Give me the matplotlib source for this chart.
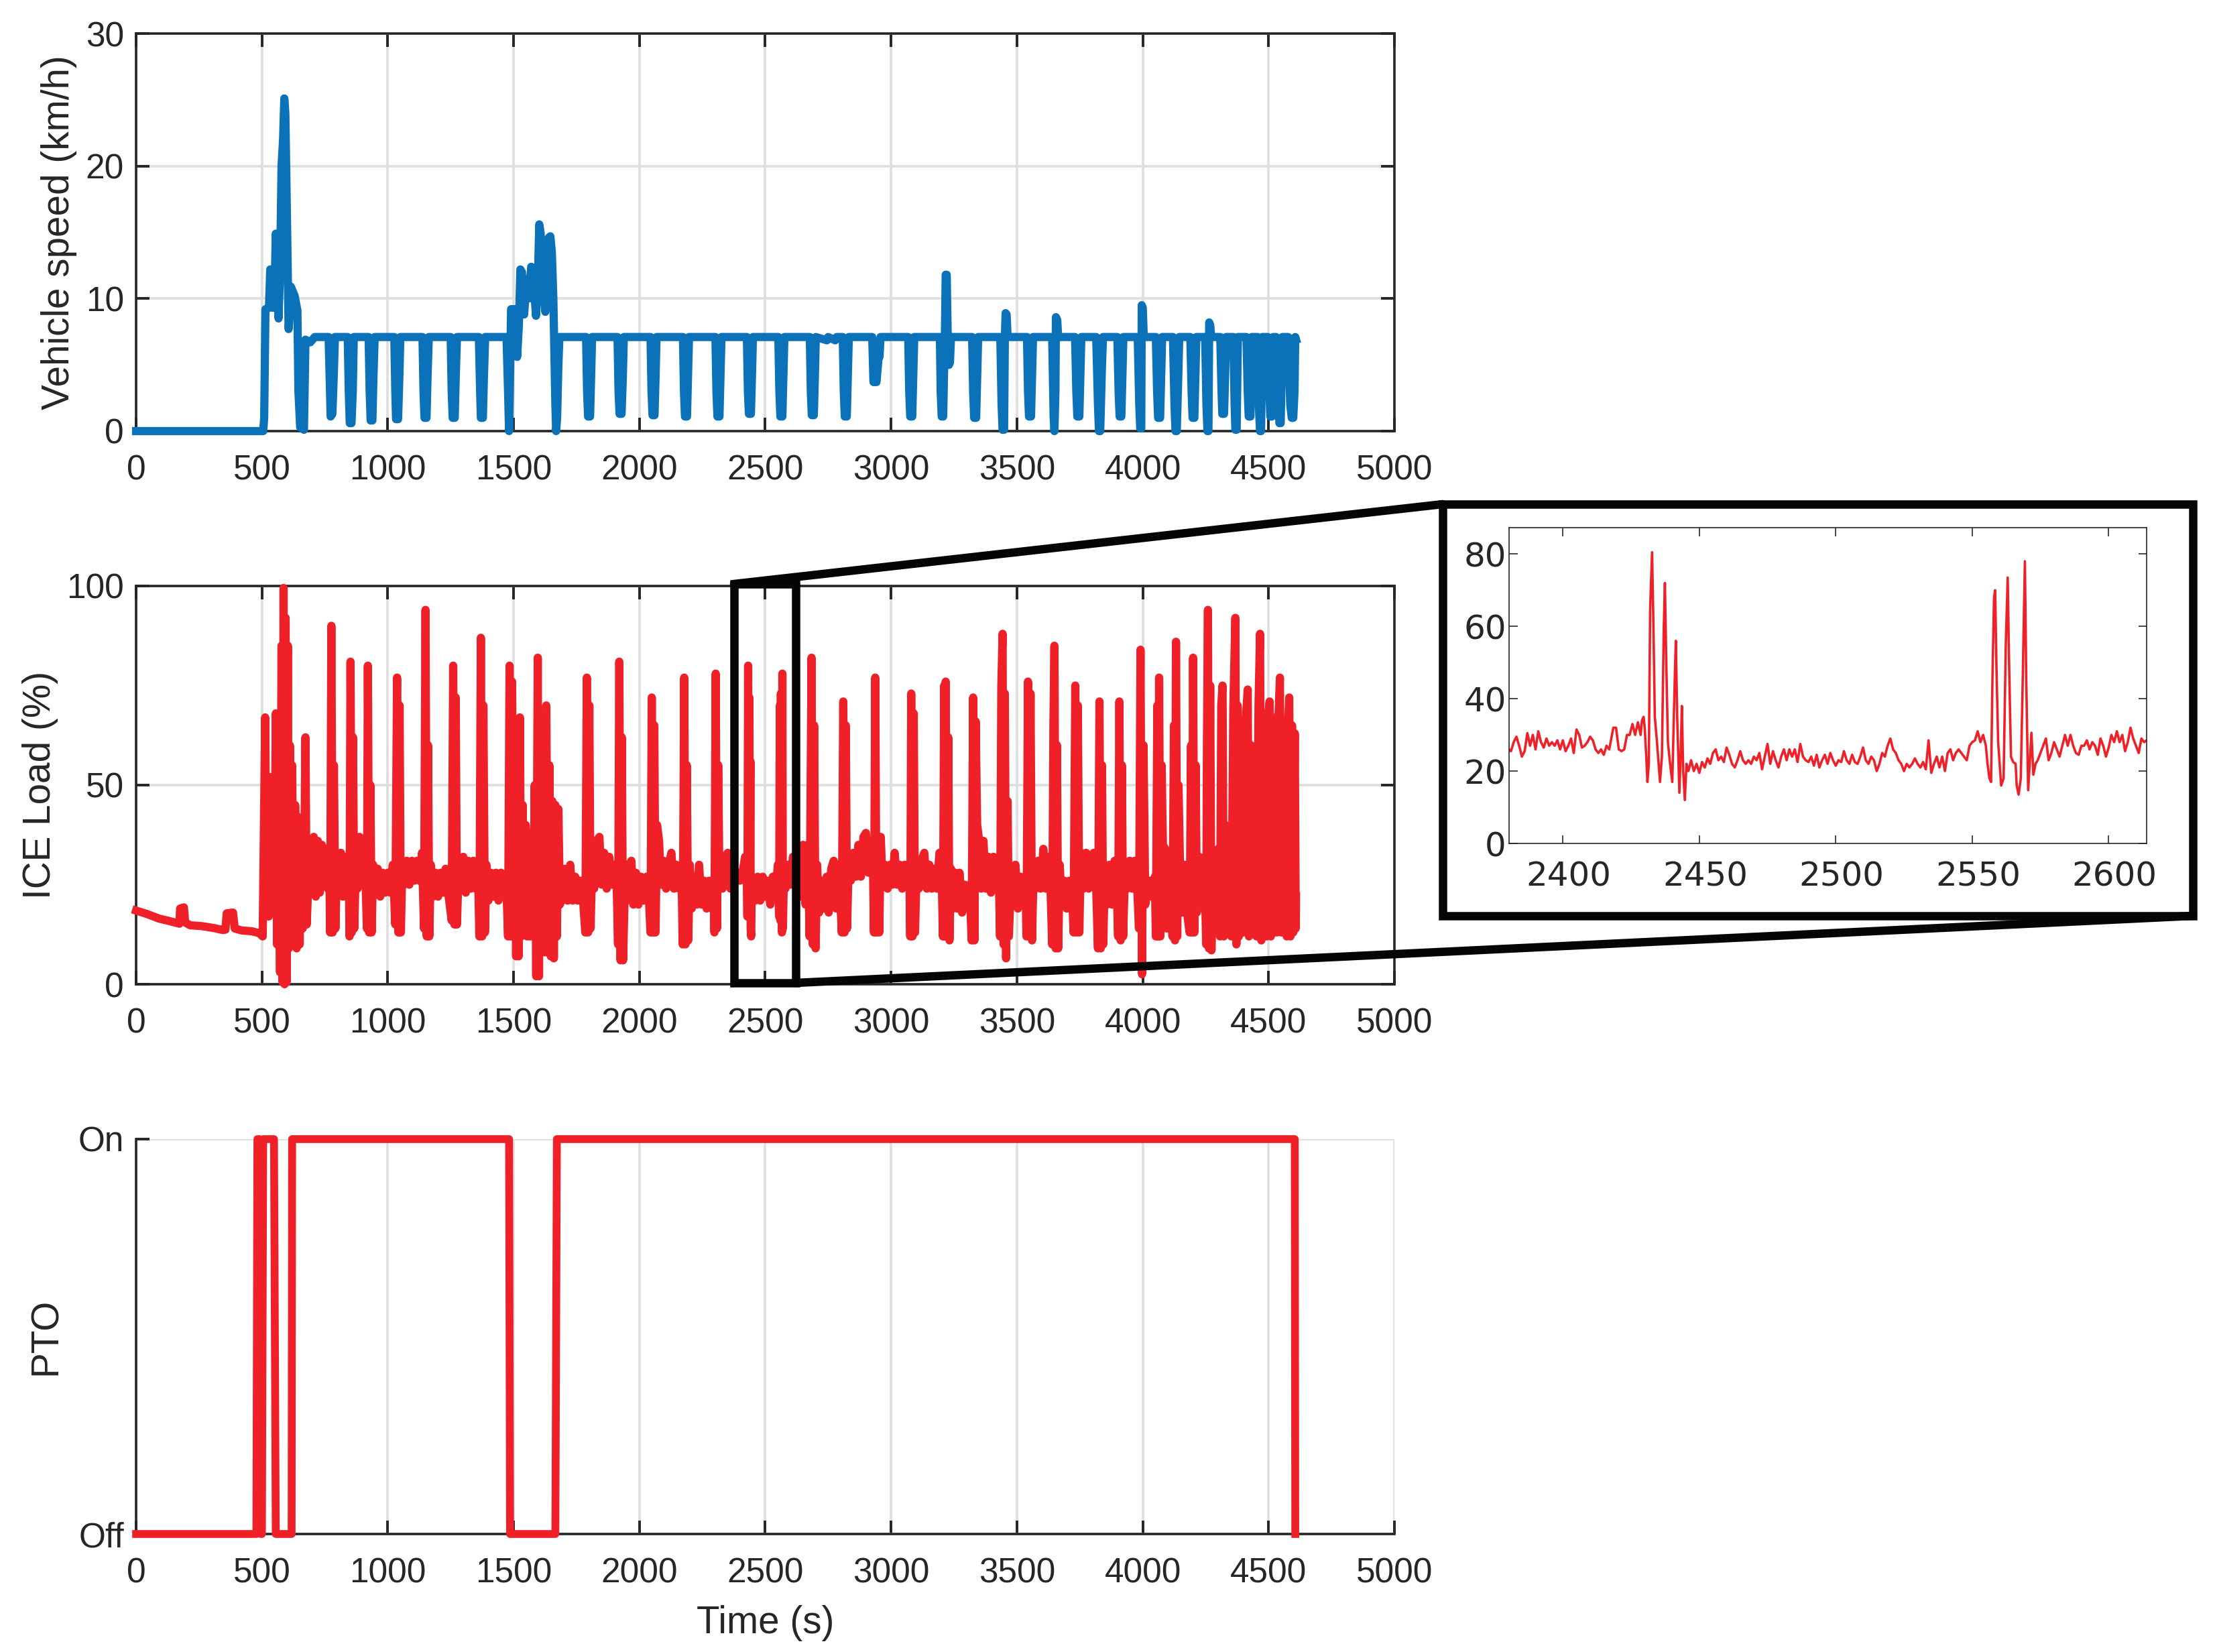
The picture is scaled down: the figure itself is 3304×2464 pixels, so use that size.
import numpy as np
import matplotlib
matplotlib.use('Agg')
import matplotlib.pyplot as plt
from matplotlib.lines import Line2D
from matplotlib.patches import Rectangle
from matplotlib.transforms import ScaledTranslation

plt.rcParams['font.family'] = ['Liberation Sans', 'DejaVu Sans']

W, H = 3304, 2464
BLUE = '#0b72ba'
RED = '#ef2028'
DARK = '#262626'
GRID = '#dedede'

x_ticks = [0, 500, 1000, 1500, 2000, 2500, 3000, 3500, 4000, 4500, 5000]

# vehicle speed (t, km/h)
speed_trace = [
    (0, 0), (505, 0), (509, 1), (512, 6), (514, 9.2), (528, 9.3), (533, 12.2), (538, 12), (544, 9.3),
    (550, 10), (555, 14.9), (560, 14), (566, 8.5), (572, 12), (578, 20), (584, 22), (589, 25.1), (593, 24),
    (598, 18), (606, 7.7), (611, 9), (615, 10.9), (630, 10.2), (641, 9.1), (645, 3), (652, 0.3), (667, 0.1),
    (673, 6.9), (692, 6.7), (710, 7.1), (765, 7.1),
    (769, 4), (773, 1.1), (780, 1.3), (786, 4.5), (790, 7.1), (841, 7.1),
    (845, 3), (849, 0.6), (856, 0.6), (861, 3), (865, 7.1), (924, 7.1),
    (928, 3), (932, 0.8), (939, 0.8), (943, 4), (948, 7.1), (1026, 7.1),
    (1030, 3), (1033, 0.9), (1041, 0.9), (1046, 4), (1050, 7.1), (1138, 7.1),
    (1142, 3), (1146, 1), (1154, 1), (1158, 4), (1163, 7.1), (1250, 7.1),
    (1254, 3), (1258, 1), (1266, 1), (1270, 4), (1275, 7.1), (1362, 7.1),
    (1367, 3), (1370, 1), (1378, 1), (1382, 4), (1387, 7.1), (1472, 7.1), (1478, 3), (1482, 0), (1485, 3),
    (1490, 9.2), (1504, 9.2), (1514, 5.6), (1521, 8), (1527, 12.2), (1533, 12), (1542, 8.8), (1551, 11.4),
    (1560, 10), (1570, 12.4), (1576, 12.3), (1589, 8.7), (1596, 11), (1602, 15.6), (1607, 15), (1618, 11),
    (1626, 9), (1634, 12), (1640, 14.6), (1646, 14.7), (1652, 13.5), (1658, 10), (1662, 6), (1666, 2),
    (1669, 0), (1673, 1), (1678, 5), (1682, 7.1), (1788, 7.1),
    (1792, 3), (1796, 1.1), (1804, 1.1), (1808, 4), (1812, 7.1), (1913, 7.1),
    (1917, 3), (1921, 1.3), (1929, 1.3), (1934, 4), (1938, 7.1), (2044, 7.1),
    (2048, 3), (2052, 1.2), (2060, 1.2), (2064, 4), (2068, 7.1), (2173, 7.1),
    (2177, 3), (2181, 1.1), (2189, 1.1), (2193, 4), (2197, 7.1), (2302, 7.1),
    (2306, 3), (2310, 1.1), (2318, 1.1), (2322, 4), (2326, 7.1), (2427, 7.1),
    (2431, 3), (2435, 1.3), (2443, 1.3), (2447, 4), (2451, 7.1), (2552, 7.1),
    (2556, 3), (2560, 1.1), (2568, 1.1), (2572, 4), (2576, 7.1), (2677, 7.1),
    (2681, 3), (2685, 1.2), (2693, 1.2), (2697, 4), (2701, 7.1), (2745, 6.85), (2750, 7.1), (2778, 6.85),
    (2784, 7.1), (2808, 7.1), (2812, 3), (2816, 1.1), (2824, 1.1), (2828, 4), (2832, 7.1), (2925, 7.1),
    (2930, 3.7), (2936, 3.7), (2942, 3.7), (2950, 5.5), (2954, 5.6), (2958, 7.1), (3068, 7.1),
    (3072, 3), (3076, 1.1), (3084, 1.1), (3088, 4), (3092, 7.1), (3194, 7.1),
    (3197, 3), (3201, 1.1), (3207, 1.1), (3211, 5), (3214, 7.5), (3217, 11.8), (3221, 11.8), (3225, 7.1),
    (3230, 5), (3234, 5.2), (3238, 7.1), (3322, 7.1), (3326, 3), (3330, 1), (3338, 1), (3342, 4), (3346, 7.1),
    (3434, 7.1), (3439, 2), (3443, 0.1), (3449, 0.1), (3452, 7), (3455, 8.9), (3459, 8.8), (3463, 7.1),
    (3540, 7.1), (3544, 3), (3548, 1.1), (3556, 1.1), (3560, 4), (3564, 7.1), (3640, 7.1), (3646, 1),
    (3649, 0), (3653, 3), (3655, 8.6), (3660, 8.4), (3664, 7.1), (3731, 7.1), (3736, 3), (3740, 1.1),
    (3748, 1.1), (3752, 4), (3756, 7.1), (3815, 7.1), (3822, 2), (3826, 0), (3831, 0), (3838, 5), (3842, 7.1),
    (3899, 7.1), (3904, 3), (3908, 1.1), (3915, 1.1), (3919, 4), (3923, 7.1), (3980, 7.1), (3986, 2),
    (3990, 0.2), (3994, 0.2), (3996, 9.5), (4000, 9.3), (4004, 7.1), (4052, 7.1), (4057, 3), (4061, 1),
    (4069, 1), (4073, 4), (4077, 7.1), (4120, 7.1), (4126, 2), (4130, 0), (4135, 0), (4141, 4), (4145, 7.1),
    (4189, 7.1), (4194, 3), (4198, 1), (4205, 1), (4209, 4), (4213, 7.1), (4248, 7.1), (4253, 2), (4257, 0),
    (4261, 0), (4264, 8.2), (4268, 8), (4272, 7.1), (4308, 7.1), (4313, 3), (4316, 1.3), (4323, 1.3),
    (4327, 4), (4331, 7.1), (4360, 7.1), (4365, 2), (4368, 0.1), (4373, 0.1), (4378, 7.1), (4412, 7.1),
    (4417, 3), (4421, 1.1), (4428, 1.1), (4433, 7.1), (4456, 7.1), (4461, 2), (4466, 0), (4470, 0),
    (4475, 7.1), (4497, 7.1), (4503, 3), (4507, 1.1), (4513, 1.1), (4518, 7.1), (4530, 7.1), (4538, 3),
    (4543, 0.6), (4548, 0.6), (4555, 7.1), (4578, 7.1), (4586, 2), (4592, 1), (4598, 1), (4603, 3),
    (4606, 7.1), (4609, 6.9),
]

# ICE load (t, %)
load_trace = [
    (0, 18.5), (40, 17.7), (70, 17), (90, 16.5), (130, 15.9), (160, 15.4), (172, 15.2), (175, 19), (190, 19.3),
    (195, 15.5), (215, 14.8), (260, 14.6), (310, 14.1), (345, 13.6), (355, 13.7), (360, 17.8), (385, 18),
    (392, 14), (420, 13.5), (460, 13.3), (490, 12.8), (503, 12),
    (508, 40), (513, 67), (518, 22), (522, 45), (527, 17), (533, 52), (538, 18), (545, 48), (550, 20), (555, 68),
    (560, 10), (566, 50), (572, 3), (578, 85), (582, 0.5), (586, 99.5), (590, 0), (594, 92), (598, 0.5), (603, 85),
    (607, 9), (611, 60), (616, 12), (620, 55), (626, 10), (632, 45), (638, 9), (644, 42), (650, 10), (656, 40),
    (662, 14), (668, 30), (673, 62), (678, 15), (684, 25),
    (690, 36), (698, 24), (706, 37), (714, 22), (722, 36), (730, 23), (738, 35), (746, 25), (754, 34), (762, 24),
    (768, 28), (771, 13), (776, 90), (781, 13), (786, 55), (792, 14), (798, 30),
    (806, 23), (814, 33), (822, 22), (830, 32), (838, 24), (845, 30),
    (848, 12), (852, 81), (857, 13), (862, 62), (867, 14), (873, 30),
    (880, 24), (888, 37), (896, 25), (904, 36), (912, 26),
    (917, 14), (921, 80), (926, 13), (931, 50), (936, 13), (942, 30),
    (950, 23), (960, 29), (970, 22), (980, 28), (990, 23), (1000, 28), (1010, 23), (1020, 30),
    (1030, 15), (1037, 77), (1042, 13), (1047, 70), (1052, 13), (1058, 30),
    (1066, 25), (1076, 31), (1086, 25), (1096, 31), (1106, 26), (1116, 31), (1126, 26), (1136, 33),
    (1144, 14), (1150, 94), (1155, 12), (1160, 60), (1165, 12), (1171, 30),
    (1180, 22), (1190, 28), (1200, 22), (1210, 28), (1220, 23), (1230, 29), (1240, 23),
    (1254, 16), (1260, 80), (1265, 15), (1270, 72), (1275, 15), (1282, 30),
    (1290, 24), (1300, 32), (1310, 23), (1320, 31), (1330, 24), (1340, 31), (1350, 24), (1358, 30),
    (1364, 12), (1370, 87), (1375, 12), (1380, 70), (1386, 13), (1392, 30),
    (1400, 21), (1410, 28), (1420, 22), (1430, 28), (1440, 21), (1450, 28), (1460, 22), (1470, 27),
    (1478, 12), (1484, 80), (1489, 12), (1494, 76), (1500, 13), (1506, 65), (1510, 7), (1515, 50), (1520, 7),
    (1525, 67), (1530, 12), (1536, 45), (1542, 13), (1548, 40), (1554, 12), (1560, 38), (1566, 12), (1572, 37),
    (1578, 14), (1584, 50), (1590, 2), (1596, 82), (1601, 2), (1606, 60), (1611, 8), (1618, 50), (1624, 8),
    (1630, 70), (1636, 8), (1642, 55), (1648, 7), (1654, 46), (1660, 6.5), (1666, 45), (1672, 12), (1678, 44),
    (1684, 20), (1690, 24),
    (1695, 21), (1705, 29), (1715, 21), (1725, 30), (1735, 21), (1745, 27), (1755, 21), (1765, 26), (1775, 22),
    (1785, 13), (1791, 77), (1796, 13), (1801, 70), (1806, 14), (1812, 30),
    (1820, 24), (1830, 36), (1841, 37), (1850, 25), (1860, 33), (1870, 24), (1880, 32), (1890, 25), (1900, 30),
    (1910, 24), (1915, 10), (1920, 81), (1925, 6), (1930, 62), (1935, 6), (1942, 24),
    (1950, 21), (1960, 30), (1968, 31), (1976, 20), (1986, 28), (1996, 20), (2006, 27), (2016, 21), (2028, 27),
    (2038, 21), (2044, 13), (2049, 72), (2054, 13), (2059, 65), (2064, 13), (2070, 40),
    (2078, 36), (2086, 25), (2096, 31), (2106, 24), (2116, 30), (2127, 33), (2137, 24), (2147, 30), (2157, 24),
    (2167, 29), (2172, 10), (2178, 77), (2183, 10), (2188, 55), (2194, 11), (2200, 30),
    (2208, 19), (2218, 27), (2228, 20), (2237, 30), (2247, 20), (2257, 26), (2267, 19), (2277, 26), (2287, 19),
    (2295, 26), (2298, 13), (2303, 78), (2308, 14), (2313, 55), (2318, 25), (2322, 32),
    (2330, 24), (2340, 32), (2351, 33), (2362, 24), (2372, 30), (2380, 27), (2390, 28), (2400, 26), (2412, 29),
    (2420, 32), (2426, 32), (2429, 17), (2432, 80), (2434, 18), (2437, 72), (2439, 17), (2441, 56), (2442, 14),
    (2444, 12), (2446, 22), (2455, 24), (2460, 21), (2470, 27), (2480, 21), (2490, 27), (2500, 22), (2510, 26),
    (2520, 20), (2530, 27), (2540, 22), (2550, 30), (2555, 17), (2558, 70), (2560, 16), (2562, 73), (2565, 22),
    (2566, 13), (2568, 78), (2570, 14), (2574, 27), (2580, 24), (2590, 30), (2600, 25), (2610, 32), (2620, 27),
    (2630, 33), (2640, 22), (2650, 35), (2660, 20), (2670, 35), (2676, 12), (2684, 82), (2689, 10), (2694, 65),
    (2700, 9), (2706, 30),
    (2714, 18), (2724, 26), (2734, 19), (2744, 27), (2752, 18), (2762, 29), (2772, 31), (2782, 19), (2792, 30),
    (2804, 13), (2810, 71), (2815, 13), (2820, 65), (2825, 14), (2832, 32),
    (2840, 26), (2850, 33), (2860, 27), (2870, 35), (2880, 27), (2890, 37), (2900, 38), (2910, 28), (2920, 36),
    (2928, 30), (2932, 13), (2937, 77), (2942, 13), (2948, 37), (2953, 13), (2959, 37),
    (2966, 25), (2976, 30), (2986, 24), (2996, 30), (3005, 25), (3014, 33), (3024, 25), (3034, 30), (3044, 24),
    (3054, 30), (3064, 26), (3072, 30), (3076, 12), (3080, 73), (3085, 12), (3090, 68), (3095, 13), (3102, 30),
    (3110, 24), (3120, 31), (3132, 33), (3142, 24), (3152, 30), (3162, 24), (3172, 29), (3182, 24), (3192, 33),
    (3200, 30), (3206, 12), (3211, 75), (3214, 12), (3217, 76), (3222, 12), (3227, 62), (3232, 11), (3238, 29),
    (3245, 19), (3255, 28), (3262, 19), (3272, 28), (3282, 18), (3292, 25), (3302, 19), (3312, 25),
    (3320, 11), (3326, 72), (3331, 11), (3336, 66), (3342, 40),
    (3350, 36), (3358, 24), (3367, 36), (3377, 24), (3387, 32), (3397, 23), (3407, 32), (3417, 24), (3427, 30),
    (3433, 12), (3438, 75), (3443, 88), (3447, 10), (3452, 73), (3457, 6.5), (3463, 46), (3468, 12), (3474, 22),
    (3482, 20), (3494, 30), (3504, 19), (3514, 27), (3524, 20), (3534, 26),
    (3538, 12), (3544, 76), (3549, 12), (3554, 73), (3560, 11), (3566, 28),
    (3574, 24), (3584, 31), (3594, 24), (3605, 34), (3615, 24), (3625, 32), (3633, 25),
    (3640, 10), (3645, 65), (3649, 85), (3654, 9), (3659, 60), (3664, 9), (3670, 30),
    (3678, 20), (3688, 26), (3698, 19), (3708, 26), (3718, 25),
    (3725, 13), (3732, 75), (3737, 13), (3742, 70), (3748, 13), (3754, 33),
    (3765, 24), (3775, 33), (3785, 24), (3795, 31), (3805, 33), (3815, 24),
    (3822, 9), (3828, 71), (3833, 9), (3838, 55), (3843, 10), (3850, 30),
    (3858, 20), (3868, 30), (3878, 20), (3888, 31), (3898, 21),
    (3902, 12), (3907, 71), (3912, 11), (3917, 55), (3922, 12), (3930, 30),
    (3938, 24), (3948, 31), (3958, 24), (3968, 31), (3978, 24),
    (3985, 14), (3991, 84), (3997, 2.5), (4003, 60), (4010, 20),
    (4018, 23), (4028, 26), (4038, 22), (4048, 27),
    (4052, 12), (4058, 70), (4061, 12), (4065, 77), (4070, 12), (4075, 55), (4080, 35), (4089, 34), (4095, 14),
    (4100, 30), (4110, 22), (4118, 12), (4124, 65), (4128, 11), (4132, 86), (4137, 12), (4142, 50), (4148, 30),
    (4156, 18), (4166, 30), (4176, 18), (4186, 13), (4192, 60), (4196, 13), (4200, 82), (4205, 13), (4210, 55),
    (4215, 18), (4225, 32), (4235, 20), (4245, 30), (4252, 10), (4255, 60), (4259, 94), (4263, 9), (4268, 75),
    (4273, 8.5), (4280, 30), (4290, 20), (4300, 34), (4307, 12), (4312, 70), (4317, 75), (4322, 12), (4328, 40),
    (4335, 18), (4345, 30), (4352, 12), (4360, 70), (4368, 92), (4372, 10), (4377, 70), (4382, 12), (4390, 30),
    (4398, 13), (4408, 65), (4417, 74), (4422, 12), (4430, 60), (4436, 13), (4444, 45), (4452, 12), (4460, 70),
    (4466, 88), (4471, 11), (4476, 65), (4481, 12), (4487, 66), (4492, 12), (4497, 67), (4504, 71), (4509, 12),
    (4515, 66), (4520, 13), (4527, 67), (4533, 13), (4539, 67), (4545, 77), (4550, 13), (4556, 66), (4561, 13),
    (4567, 66), (4572, 12), (4577, 65), (4582, 72), (4587, 12), (4593, 65), (4598, 13), (4604, 63), (4608, 14),
    (4609, 22),
]

# PTO state (t, 0/1)
pto_trace = [
    (0, 0), (478, 0), (482, 1), (490, 1), (495, 0), (500, 0), (505, 1), (548, 1), (555, 0), (618, 0), (620, 1),
    (1482, 1), (1486, 0), (1666, 0), (1672, 1), (4604, 1), (4606, 0),
]

# zoomed load between 2380 s and 2614 s
zoom_trace = [
    (2380.3, 26), (2381, 25.5), (2382, 28), (2383, 29.5), (2384, 27), (2385, 24), (2386, 25.5), (2387, 30.5),
    (2388, 27), (2389, 30), (2390, 26), (2391, 31), (2392, 28), (2393, 26.5), (2394, 29), (2395, 27), (2396, 28),
    (2397, 27), (2398, 28.5), (2399, 26), (2400, 28.5), (2401, 25.5), (2402, 27), (2403, 29), (2404, 25),
    (2405, 31.5), (2406, 30), (2407, 26.5), (2408, 27), (2409, 28), (2410, 29.5), (2411, 28.5), (2412, 26),
    (2413, 25), (2414, 26), (2415, 24.5), (2416, 27), (2417, 26), (2418.5, 32), (2419.5, 32), (2420.5, 26),
    (2421.5, 25.5), (2422.5, 26), (2423.5, 30), (2424.5, 30), (2425.5, 33), (2426.5, 30), (2427.5, 33.5),
    (2428.5, 30), (2429, 34), (2429.6, 35), (2430, 32), (2430.5, 25), (2431, 17), (2431.5, 22), (2432, 65),
    (2432.7, 80.5), (2433.2, 60), (2433.7, 35), (2434.5, 28), (2435.6, 17), (2436.3, 24), (2437, 60),
    (2437.4, 72), (2437.9, 50), (2438.5, 28), (2439.3, 22), (2440.1, 17), (2441, 45), (2441.4, 56),
    (2441.9, 35), (2442.7, 14), (2443.2, 25), (2443.6, 38), (2444.1, 20), (2444.7, 12), (2445.3, 22),
    (2446, 20), (2447, 23), (2448, 20), (2449, 22), (2450, 19.5), (2451, 22.5), (2452, 21), (2453, 23.5),
    (2454, 22), (2455, 25), (2456, 26), (2457, 23), (2458, 24), (2459, 22.5), (2460, 26.5), (2461, 24.5),
    (2462, 22), (2463, 21), (2464, 23), (2465, 25.5), (2466, 23), (2467, 22), (2468, 23), (2469, 22),
    (2470, 24), (2471, 23), (2472, 25), (2473, 20.5), (2474, 24), (2475, 27.5), (2476, 22), (2477, 25.5),
    (2478, 23), (2479, 21), (2480, 24), (2481, 26), (2482, 23), (2483, 26), (2484, 24), (2485, 26), (2486, 22.5),
    (2487, 27.5), (2488, 24), (2489, 23), (2490, 22.5), (2491, 24), (2492, 21.5), (2493, 24.5), (2494, 21),
    (2495, 23), (2496, 24.5), (2497, 22), (2498, 25), (2499, 23), (2500, 21.5), (2501, 23), (2502, 22.5),
    (2503, 25.5), (2504, 23), (2505, 22), (2506, 24.5), (2507, 22.5), (2508, 22), (2509, 24), (2510, 26.5),
    (2511, 23), (2512, 22), (2513, 24), (2514, 23), (2515, 20), (2516, 22), (2517, 25), (2518, 24), (2519, 27),
    (2520, 29), (2521, 26), (2522, 25), (2523, 23), (2524, 22), (2525, 20), (2526, 22), (2527, 21), (2528, 22),
    (2529, 23.5), (2530, 22), (2531, 21), (2532, 22.5), (2533, 20.5), (2534, 28.5), (2535, 19.5), (2536, 22),
    (2537, 24), (2538, 21), (2539, 24), (2540, 20), (2541, 25), (2542, 26), (2543, 23), (2544, 25), (2545, 26),
    (2546, 25), (2547, 24), (2548, 23), (2549, 27), (2550, 28), (2551, 28.5), (2552, 31), (2553, 28),
    (2554, 30), (2555, 27), (2555.6, 22), (2556.3, 18), (2556.9, 17), (2557.4, 45), (2558, 68), (2558.4, 70),
    (2558.9, 48), (2559.5, 28), (2560.6, 16), (2561.5, 18), (2562.3, 55), (2563, 73.5), (2563.5, 50),
    (2564.2, 24), (2565, 22.5), (2565.9, 22), (2566.3, 16), (2567, 13.5), (2567.8, 18), (2568.5, 45),
    (2569.3, 78), (2569.8, 45), (2570.5, 14.7), (2571.7, 30.6), (2572.4, 19), (2573.2, 22), (2574, 23),
    (2575, 25), (2576, 27), (2577, 29), (2578, 23), (2579, 25), (2580, 28), (2581, 26), (2582, 24), (2583, 27),
    (2584, 30), (2585, 27), (2586, 30), (2587, 27), (2588, 25), (2589, 24.5), (2590, 27), (2591, 27),
    (2592, 28.5), (2593, 26), (2594, 28), (2595, 27), (2596, 24.5), (2597, 29), (2598, 27), (2599, 24),
    (2600, 26.5), (2601, 30), (2602, 28), (2603, 31), (2604, 28), (2605, 30), (2606, 25.5), (2607, 28),
    (2608, 32), (2609, 29), (2610, 27), (2611, 25), (2612, 29), (2613, 28), (2613.9, 28.5),
]


def fig_xy(px, py):
    return px / W, 1 - py / H


def make_axes(left, top, right, bottom):
    x0, y1 = fig_xy(left, top)
    x1, y0 = fig_xy(right, bottom)
    return fig.add_axes([x0, y0, x1 - x0, y1 - y0])


def style_main(ax, yticks, ylim, ylabel, label_x, box=True):
    ax.set_xlim(0, 5000)
    ax.set_ylim(*ylim)
    ax.set_xticks(x_ticks)
    ax.set_yticks(yticks)
    ax.grid(True, color=GRID, lw=2.6)
    ax.set_axisbelow(True)
    ax.tick_params(axis='both', direction='in', length=14.5, width=2.8, color=DARK, labelcolor=DARK,
                   labelsize=37, top=box, right=box)
    ax.tick_params(axis='x', pad=25)
    ax.tick_params(axis='y', pad=13)
    for name, sp in ax.spines.items():
        sp.set_color(DARK)
        sp.set_linewidth(2.6)
    if not box:
        ax.spines['top'].set_visible(False)
        ax.spines['right'].set_visible(False)
    ax.set_ylabel(ylabel, fontsize=40.8, color=DARK)
    ax.yaxis.set_label_coords(label_x, 0.5)


fig = plt.figure(figsize=(W / 100, H / 100), dpi=100)

ax1 = make_axes(203, 50, 2080, 643)
t, v = zip(*speed_trace)
ax1.plot(t, v, color=BLUE, lw=8.8, clip_on=False, zorder=3, solid_joinstyle='round')
style_main(ax1, [0, 10, 20, 30], (0, 30), 'Vehicle speed (km/h)', -0.047)

ax2 = make_axes(203, 874, 2080, 1468)
t, v = zip(*load_trace)
ax2.plot(t, v, color=RED, lw=8.8, clip_on=False, zorder=3, solid_joinstyle='round')
style_main(ax2, [0, 50, 100], (0, 100), 'ICE Load (%)', -0.062)

ax3 = make_axes(203, 1699, 2080, 2288)
t, v = zip(*pto_trace)
ax3.plot(t, v, color=RED, lw=8.4, clip_on=False, zorder=3)
style_main(ax3, [0, 1], (0, 1), 'PTO', -0.057, box=False)
ax3.set_yticklabels(['Off', 'On'])
ax3.set_xlabel('Time (s)', fontsize=40.8, color=DARK, labelpad=16)

# inset
ins = make_axes(2251, 787, 3202, 1258)
t, v = zip(*zoom_trace)
ins.plot(t, v, color=RED, lw=2.6)
ins.set_xlim(2380.3, 2613.9)
ins.set_ylim(0, 87.3)
ins.set_xticks([2400, 2450, 2500, 2550, 2600])
ins.set_yticks([0, 20, 40, 60, 80])
ins.tick_params(axis='both', direction='in', length=9, width=1.2, color=DARK, labelcolor=DARK,
                labelsize=36, top=True, right=True)
ins.tick_params(axis='x', pad=18)
ins.tick_params(axis='y', pad=3)
shift = ScaledTranslation(9 / 100, 0, fig.dpi_scale_trans)
for lab in ins.get_xticklabels():
    lab.set_family('DejaVu Sans')
    lab.set_transform(lab.get_transform() + shift)
for lab in ins.get_yticklabels():
    lab.set_family('DejaVu Sans')
for sp in ins.spines.values():
    sp.set_color(DARK)
    sp.set_linewidth(1.2)

# zoom box, frame around the inset and the two connectors
lw_box = 9
box_color = '#050505'
x0, y1 = fig_xy(1095, 871)
x1, y0 = fig_xy(1187, 1466)
fig.add_artist(Rectangle((x0, y0), x1 - x0, y1 - y0, transform=fig.transFigure, fill=False,
                         edgecolor=box_color, lw=lw_box, zorder=10))
x0, y1 = fig_xy(2152, 752)
x1, y0 = fig_xy(3271, 1366)
fig.add_artist(Rectangle((x0, y0), x1 - x0, y1 - y0, transform=fig.transFigure, fill=False,
                         edgecolor=box_color, lw=lw_box, zorder=10))
for a, b in [((1095, 871), (2152, 752)), ((1187, 1466), (3271, 1366))]:
    xa, ya = fig_xy(*a)
    xb, yb = fig_xy(*b)
    fig.add_artist(Line2D([xa, xb], [ya, yb], transform=fig.transFigure, color=box_color, lw=lw_box,
                          solid_capstyle='round', zorder=10))

fig.savefig('out.png', dpi=100)
